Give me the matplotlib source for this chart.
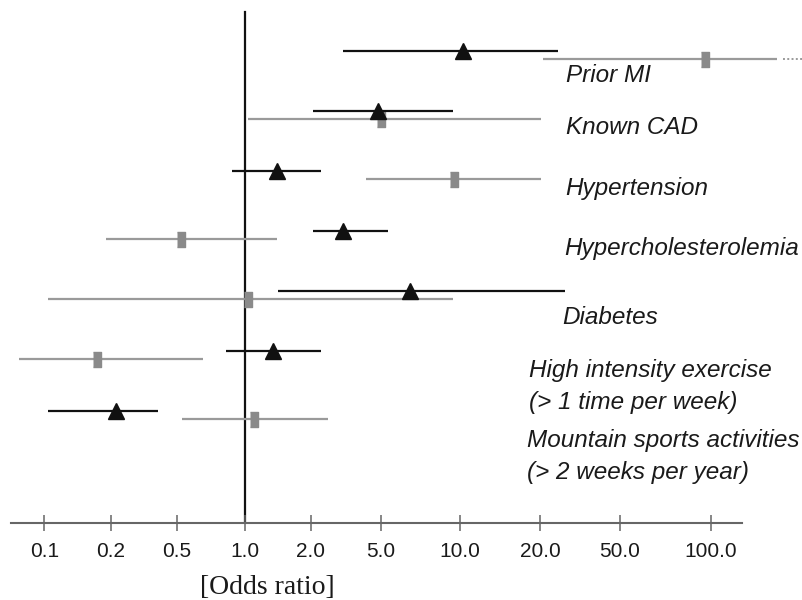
import numpy as np
import matplotlib
matplotlib.use("Agg")
import matplotlib.pyplot as plt

# rows, top to bottom
labels = ["Prior MI", "Known CAD", "Hypertension", "Hypercholesterolemia",
          "Diabetes", "High intensity exercise\n(> 1 time per week)",
          "Mountain sports activities\n(> 2 weeks per year)"]

# black triangles
or_black = [10.3, 4.8, 1.40, 3.05, 6.45, 1.34, 0.214]
lo_black = [3.04, 2.06, 0.88, 2.05, 1.41, 0.82, 0.104]
hi_black = [24.6, 9.4, 2.28, 5.3, 26.6, 2.28, 0.384]

# grey squares
or_grey = [95.5, 5.0, 9.5, 0.52, 1.03, 0.173, 1.10]
lo_grey = [20.7, 1.03, 4.1, 0.19, 0.104, 0.077, 0.526]
hi_grey = [166.0, 20.3, 20.3, 1.40, 9.4, 0.65, 2.5]
grey_open = [True, False, False, False, False, False, False]

tick_vals = [0.1, 0.2, 0.5, 1.0, 2.0, 5.0, 10.0, 20.0, 50.0, 100.0]
tick_labels = ["0.1", "0.2", "0.5", "1.0", "2.0", "5.0", "10.0", "20.0", "50.0", "100.0"]

# the printed axis is not a clean log axis, so the scale follows the tick spacing
anchor_val = np.log10([0.01] + tick_vals + [1000.0])
anchor_px = np.array([-176.5, 44.5, 111, 177, 245, 311, 381, 460, 540, 620, 711, 1013])


def fwd(v):
    v = np.clip(np.asarray(v, dtype=float), 1e-6, None)
    return np.interp(np.log10(v), anchor_val, anchor_px)


def inv(p):
    return 10 ** np.interp(np.asarray(p, dtype=float), anchor_px, anchor_val)


W, H = 803, 600
fig = plt.figure(figsize=(W / 100, H / 100), dpi=100)
ax = fig.add_axes([11 / W, (H - 523) / H, 731 / W, 523 / H])
ax.set_xscale("function", functions=(fwd, inv))
ax.set_xlim(inv(11), inv(742))
ax.set_ylim(523, 0)

black = "#111111"
grey = "#9a9a9a"
grey_mk = "#8a8a8a"
bar = [(-0.47, -1), (0.47, -1), (0.47, 1), (-0.47, 1)]

ax.axvline(1.0, ymin=0, ymax=1 - 12 / 523, color=black, lw=1.6, zorder=1)

for i in range(len(labels)):
    yb = 51 + 60 * i
    yg = yb + 8
    ax.plot([lo_grey[i], hi_grey[i]], [yg, yg], color=grey, lw=1.6, zorder=2,
            solid_capstyle="butt", clip_on=False)
    if grey_open[i]:
        ax.plot([hi_grey[i] * 1.04, 1000], [yg, yg], color=grey, lw=1.4,
                ls=(0, (1, 1.2)), clip_on=False, zorder=2)
    ax.plot([or_grey[i]], [yg], marker=bar, ms=10.8, color=grey_mk, mec=grey_mk,
            ls="none", zorder=3, clip_on=False)
    ax.plot([lo_black[i], hi_black[i]], [yb, yb], color=black, lw=1.6, zorder=4,
            solid_capstyle="butt", clip_on=False)
    ax.plot([or_black[i]], [yb], marker="^", ms=11.5, color=black, ls="none", zorder=5)

# row labels
label_xy = [(566, 75), (566, 128), (565, 188), (564, 248), (562, 318), (529, 370), (527, 440)]
for lab, (px, py) in zip(labels, label_xy):
    for k, line in enumerate(lab.split("\n")):
        fig.text(px / W, 1 - (py + 32 * k) / H, line, fontsize=17.5, style="italic",
                 family="Liberation Sans", color="#1a1a1a", ha="left", va="center")

for s in ["top", "left", "right"]:
    ax.spines[s].set_visible(False)
ax.spines["bottom"].set_color("#666666")
ax.spines["bottom"].set_linewidth(1.5)
ax.set_yticks([])
ax.set_xticks(tick_vals)
ax.set_xticklabels(tick_labels, family="Liberation Sans", fontsize=15, color="#1a1a1a")
ax.xaxis.set_minor_locator(matplotlib.ticker.NullLocator())
ax.tick_params(axis="x", direction="inout", length=11.5, width=1.1, colors="#666666",
               labelcolor="#1a1a1a", pad=8)

fig.text(267 / W, 1 - 587 / H, "[Odds ratio]", family="Liberation Serif", fontsize=20,
         ha="center", va="center", color="#1a1a1a")

fig.savefig("out.png", dpi=100)
